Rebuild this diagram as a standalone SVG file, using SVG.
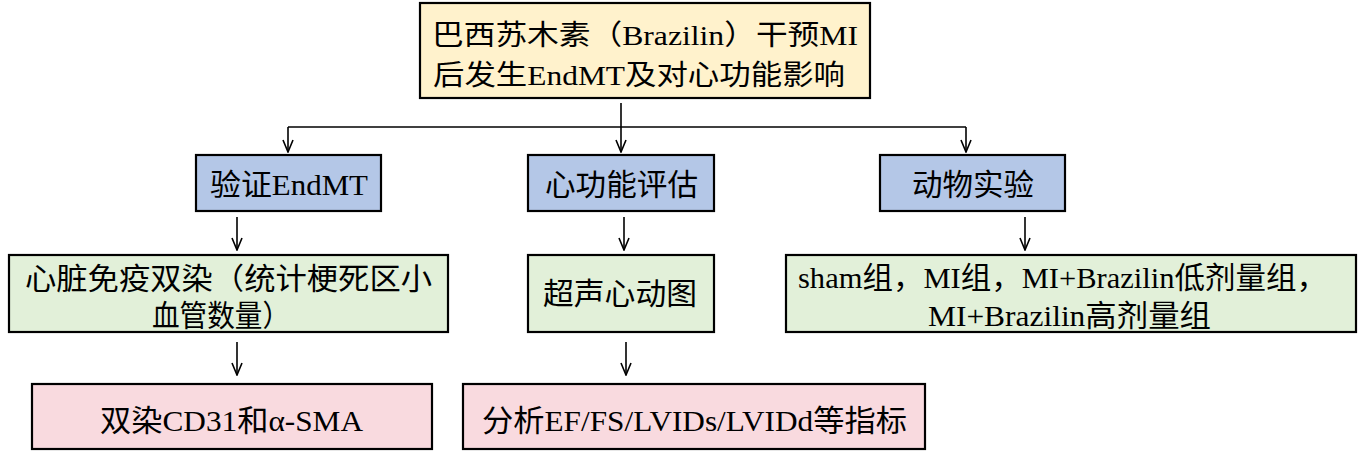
<svg xmlns="http://www.w3.org/2000/svg" width="1362" height="460" viewBox="0 0 1362 460">
<defs>
<style>
.box{stroke:#000;stroke-width:2.2}
.top{fill:#FFF2CC}.blue{fill:#B4C7E7}.green{fill:#E2F0D9}.pink{fill:#F9DADF}
text{font-family:"Liberation Serif","Noto Sans CJK SC",serif;fill:#000}
.t28{font-size:28px}.t30{font-size:30px}
.conn path{stroke:#000;stroke-width:1.6;fill:none}
</style>
<marker id="arr" viewBox="0 0 14 12" refX="13" refY="6" markerWidth="14" markerHeight="12" markerUnits="userSpaceOnUse" orient="auto">
<path d="M1,1 L13,6 L1,11" fill="none" stroke="#000" stroke-width="1.6"/>
</marker>
</defs>
<rect width="1362" height="460" fill="#fff"/>
<g class="conn">
<path d="M621,103 V152" marker-end="url(#arr)"/>
<path d="M288,127 H966"/>
<path d="M288,127 V152" marker-end="url(#arr)"/>
<path d="M966,127 V152" marker-end="url(#arr)"/>
<path d="M237,217 V250" marker-end="url(#arr)"/>
<path d="M624,217 V250" marker-end="url(#arr)"/>
<path d="M1025,217 V250" marker-end="url(#arr)"/>
<path d="M237,342 V375" marker-end="url(#arr)"/>
<path d="M626,342 V375" marker-end="url(#arr)"/>
</g>
<g id="n-top">
<rect class="box top" x="420" y="3" width="450" height="95"/>
<text class="t28" x="432" y="45" textLength="426" lengthAdjust="spacingAndGlyphs">巴西苏木素（Brazilin）干预MI</text>
<text class="t28" x="433" y="85" textLength="412" lengthAdjust="spacingAndGlyphs">后发生EndMT及对心功能影响</text>
</g>
<g id="n-endmt">
<rect class="box blue" x="196" y="155" width="185" height="56"/>
<text class="t30" x="210" y="195" textLength="158" lengthAdjust="spacingAndGlyphs">验证EndMT</text>
</g>
<g id="n-func">
<rect class="box blue" x="528" y="155" width="186" height="56"/>
<text class="t30" x="545" y="195" textLength="153" lengthAdjust="spacingAndGlyphs">心功能评估</text>
</g>
<g id="n-animal">
<rect class="box blue" x="880" y="155" width="185" height="56"/>
<text class="t30" x="912" y="195" textLength="122" lengthAdjust="spacingAndGlyphs">动物实验</text>
</g>
<g id="n-stain">
<rect class="box green" x="9" y="255" width="439" height="77"/>
<text class="t30" x="25" y="289" textLength="407" lengthAdjust="spacingAndGlyphs">心脏免疫双染（统计梗死区小</text>
<text class="t30" x="152" y="326" textLength="138" lengthAdjust="spacingAndGlyphs">血管数量）</text>
</g>
<g id="n-echo">
<rect class="box green" x="528" y="255" width="186" height="77"/>
<text class="t30" x="543" y="304" textLength="154" lengthAdjust="spacingAndGlyphs">超声心动图</text>
</g>
<g id="n-groups">
<rect class="box green" x="786" y="255" width="570" height="77"/>
<text class="t30" x="798" y="288" textLength="529" lengthAdjust="spacingAndGlyphs">sham组，MI组，MI+Brazilin低剂量组，</text>
<text class="t30" x="928" y="326" textLength="283" lengthAdjust="spacingAndGlyphs">MI+Brazilin高剂量组</text>
</g>
<g id="n-cd31">
<rect class="box pink" x="32" y="384" width="400" height="65"/>
<text class="t30" x="100" y="431" textLength="263" lengthAdjust="spacingAndGlyphs">双染CD31和α-SMA</text>
</g>
<g id="n-ef">
<rect class="box pink" x="463" y="384" width="462" height="65"/>
<text class="t30" x="482" y="431" textLength="425" lengthAdjust="spacingAndGlyphs">分析EF/FS/LVIDs/LVIDd等指标</text>
</g>
</svg>
